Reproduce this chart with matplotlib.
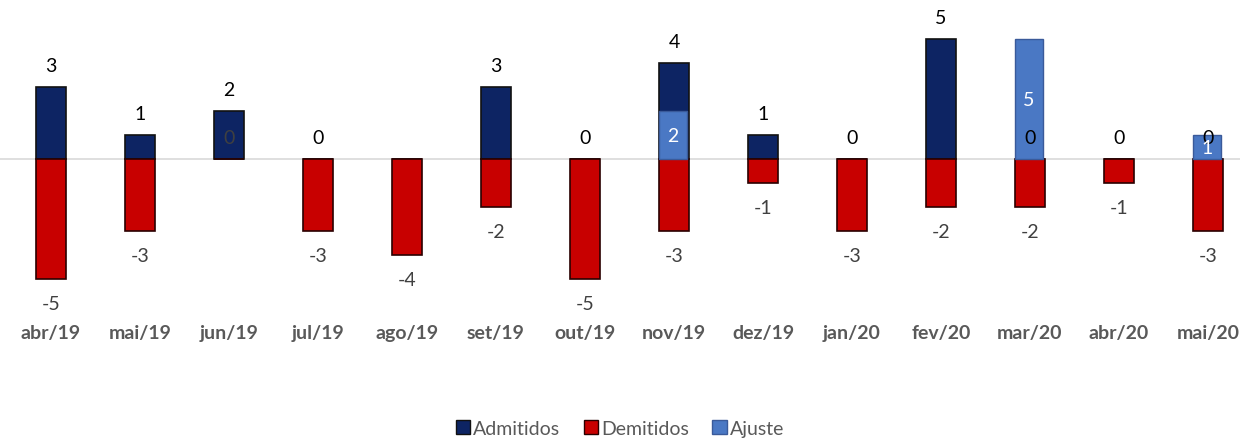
import numpy as np
import matplotlib
matplotlib.use("Agg")
from matplotlib import pyplot as plt
from matplotlib.patches import Patch

meses = ["abr/19", "mai/19", "jun/19", "jul/19", "ago/19", "set/19", "out/19",
         "nov/19", "dez/19", "jan/20", "fev/20", "mar/20", "abr/20", "mai/20"]
admitidos = [3, 1, 2, 0, None, 3, 0, 4, 1, 0, 5, 0, 0, 0]
demitidos = [-5, -3, 0, -3, -4, -2, -5, -3, -1, -3, -2, -2, -1, -3]
ajuste = [0, 0, 0, 0, 0, 0, 0, 2, 0, 0, 0, 5, 0, 1]

c_adm = "#0d2463"
c_dem = "#c80000"
c_aju = "#4a78c4"

plt.rcParams['font.family'] = ['Lato', 'DejaVu Sans']

fig = plt.figure(figsize=(12.4, 4.39), dpi=100)
ax = fig.add_axes([0, 0.2528, 1, 0.7381])

x = np.arange(len(meses))
adm = np.array([np.nan if v is None else v for v in admitidos], dtype=float)
dem = np.array(demitidos, dtype=float)
aju = np.array(ajuste, dtype=float)

w = 0.34
ax.axhline(0, color="#d9d9d9", lw=1.2, zorder=1)
ax.bar(x, np.nan_to_num(adm), w, color=c_adm, edgecolor="#111111", lw=1.2, zorder=2)
ax.bar(x, dem, w, color=c_dem, edgecolor="#2a0000", lw=1.2, zorder=2)
aju_plot = np.where(aju > 0, aju, np.nan)
ax.bar(x - 0.01, aju_plot, w * 0.94, color=c_aju, edgecolor="#3a5a9a", lw=1, zorder=3)

off = 0.9
fs = 14
for i in range(len(meses)):
    if not np.isnan(adm[i]):
        ax.text(x[i], adm[i] + off, f"{int(adm[i])}", ha="center", va="center",
                fontsize=fs, color="black", zorder=5)
    if dem[i] < 0:
        ax.text(x[i], dem[i] - 1.0, f"{int(dem[i])}", ha="center", va="center",
                fontsize=fs, color="#404040", zorder=5)
    else:
        ax.text(x[i], dem[i] + off, f"{int(dem[i])}", ha="center", va="center",
                fontsize=fs, color="#404040", zorder=5)
    if aju[i] > 0:
        ax.text(x[i] - 0.01, aju[i] / 2, f"{int(aju[i])}", ha="center", va="center",
                fontsize=fs, color="white", zorder=5)

ax.set_xlim(-0.573, 13.36)
ax.set_ylim(-7, 6.5)
ax.set_xticks(x)
ax.set_xticklabels(meses, fontsize=14, fontweight="bold", color="#595959")
ax.tick_params(axis="x", length=0, pad=-2)
ax.set_yticks([])
for s in ax.spines.values():
    s.set_visible(False)

handles = [Patch(facecolor=c_adm, edgecolor="#111111"),
           Patch(facecolor=c_dem, edgecolor="#2a0000"),
           Patch(facecolor=c_aju, edgecolor="#3a5a9a")]
fig.legend(handles, ["Admitidos", "Demitidos", "Ajuste"], loc="center",
           bbox_to_anchor=(0.5, 0.022), ncol=3, frameon=False, fontsize=14,
           handlelength=0.75, handleheight=0.75, handletextpad=0.15, columnspacing=1.2,
           labelcolor="#595959")

fig.savefig("out.png", dpi=100)
